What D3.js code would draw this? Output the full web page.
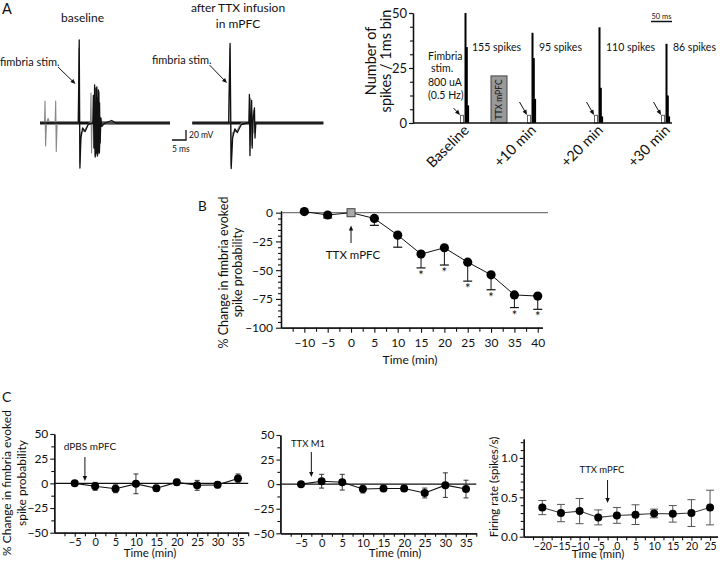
<!DOCTYPE html>
<html><head><meta charset="utf-8">
<script src="https://cdn.jsdelivr.net/npm/d3@7"></script>
<style>body{margin:0;background:#fff} svg{display:block;font-family:Lato,'Open Sans',sans-serif}</style>
</head><body><svg id="c" width="720" height="568"></svg>
<script>
// ---------- DATA ----------
// Panel A traces: [time ms, voltage mV]
const traceBaselineMain = [[0,0],[13.7,0],[14.0,166],[14.25,-90],[14.6,-30],[15.2,-10],[16.1,-17],[17.3,-2],[19.3,0],[19.5,76],[19.7,-68],[19.9,0],[20.3,72],[20.5,-66],[20.7,-4],[21.0,62],[21.2,-60],[21.5,-6],[22.1,-6],[23.2,0],[25.6,5],[27,0],[46.4,0]];
const traceBaselineDense = [[18.9,0],[19.1,55],[19.3,-50],[19.6,40],[19.8,-64],[20.0,70],[20.15,-60],[20.4,50],[20.6,-62],[20.8,66],[21.0,-58],[21.2,40],[21.4,-40],[21.7,10],[22.0,-8]];
const traceBaselineGrey = [[0,0],[1.6,0],[1.8,44],[2.0,-46],[2.3,0],[2.9,9],[3.4,0],[5.4,0],[5.6,44],[5.8,-57],[6.1,0],[13.6,0],[13.9,150],[14.2,-80],[14.6,-20],[16,-14],[17.5,0],[18.0,0],[18.2,60],[18.4,-60],[18.6,0],[46.4,0]];
const traceTTXMain = [[0,0],[13.0,0],[13.5,159],[13.9,-91],[14.4,-30],[15.2,-12],[16.1,-19],[17.5,-3],[19.5,0],[20.2,0],[20.4,57],[20.6,-65],[20.8,0],[21.2,45],[21.4,-50],[21.6,0],[22.2,30],[22.4,-30],[22.7,0],[46.8,0]];
const traceTTXGrey = [[0,0],[13.0,0],[13.4,150],[13.8,-85],[14.3,-20],[16,-15],[17.5,0],[20.6,0],[20.8,50],[21.0,-45],[21.2,0],[21.8,25],[22.0,-20],[22.3,0],[46.8,0]];

// Panel A histogram
const histCats = ["Baseline","+10 min","+20 min","+30 min"];
const stimBin = [3.5,3.5,3.5,3.5];
const spikeBins = [[50,34.5,8],[41,29.5,11],[43.5,16,3],[36,12.5,3]];
const spikeCounts = ["155 spikes","95 spikes","110 spikes","86 spikes"];
const ttxBoxValue = 21.4;
const histTicks = [0,25,50];

// Panel B
const bTime = [-10,-5,0,5,10,15,20,25,30,35,40];
const bMean = [1,-2,0,-5,-19.5,-36,-30.5,-43,-54,-71.5,-72.5];
const bErr  = [1,2.5,0,6,10.5,12,15,16.5,13,11,11.5];
const bSig  = [0,0,0,0,0,1,1,1,1,1,1];
const bYTicks = [0,-25,-50,-75,-100];
const bXTicks = [-10,-5,0,5,10,15,20,25,30,35,40];

// Panel C
const cTime = [-5,0,5,10,15,20,25,30,35];
const dpbsMean = [0,-3,-5.5,-0.5,-5,1,-2,-1.5,5];
const dpbsErr  = [1,4,4,10,3,3,5,3,4.5];
const m1Mean = [0,3,2,-5,-4.5,-4.5,-9,-1,-5];
const m1Err  = [1,7,8,4,3,3,5,12.5,9];
const cYTicks = [50,25,0,-25,-50];
const cXTicks = [-5,0,5,10,15,20,25,30,35];
const frTime = [-20,-15,-10,-5,0,5,10,15,20,25];
const frMean = [0.37,0.30,0.325,0.245,0.27,0.28,0.295,0.29,0.30,0.37];
const frErr  = [0.09,0.11,0.16,0.095,0.10,0.125,0.055,0.105,0.17,0.22];
const frYTicks = [0,0.5,1.0];
const frXTicks = [-20,-15,-10,-5,0,5,10,15,20,25];

// ---------- DRAW ----------
const svg = d3.select("#c");
svg.append("rect").attr("width",720).attr("height",568).attr("fill","#fff");

function txt(g,x,y,s,size,anchor="start"){
  return g.append("text").attr("x",x).attr("y",y).attr("font-size",size).attr("text-anchor",anchor).attr("fill","#111").text(s);
}
function rtxt(g,x,y,s,size,anchor="middle"){
  return g.append("text").attr("transform",`translate(${x},${y}) rotate(-90)`).attr("font-size",size).attr("text-anchor",anchor).attr("fill","#111").text(s);
}
function arrow(g,x1,y1,x2,y2,hs=5,hw=2.2,color="#111"){
  const a=Math.atan2(y2-y1,x2-x1), c=Math.cos(a), s=Math.sin(a);
  g.append("line").attr("x1",x1).attr("y1",y1).attr("x2",x2-c*hs*0.8).attr("y2",y2-s*hs*0.8).attr("stroke",color).attr("stroke-width",1);
  const bx=x2-c*hs, by=y2-s*hs;
  g.append("path").attr("d",`M${x2},${y2}L${bx-s*hw},${by+c*hw}L${bx+s*hw},${by-c*hw}Z`).attr("fill",color);
}
function styleAxis(g,size){
  g.selectAll("path.domain").attr("stroke","#111").attr("stroke-width",1.3);
  g.selectAll(".tick line").attr("stroke","#111").attr("stroke-width",1.1);
  g.selectAll(".tick text").attr("font-size",size).attr("fill","#111").attr("font-family","Lato,'Open Sans',sans-serif");
}

// ----- Panel A traces -----
const gA = svg.append("g");
txt(gA,2,14,"A",14.5);
txt(gA,82.5,22,"baseline",12,"middle");
txt(gA,238,12,"after TTX infusion",12,"middle");
txt(gA,238,28,"in mPFC",12,"middle");
const yT = d3.scaleLinear().domain([-100,180]).range([173,33]);
const xTL = d3.scaleLinear().domain([0,46.4]).range([40,170]);
const xTR = d3.scaleLinear().domain([0,46.8]).range([192.3,323.3]);
function drawTrace(data,xs,color,w){
  gA.append("path").datum(data).attr("fill","none").attr("stroke",color).attr("stroke-width",w)
    .attr("stroke-linejoin","round").attr("d",d3.line().x(d=>xs(d[0])).y(d=>yT(d[1])));
}
gA.append("line").attr("x1",xTL(0)).attr("x2",xTL(46.4)).attr("y1",yT(0)).attr("y2",yT(0)).attr("stroke","#111").attr("stroke-width",2.8);
gA.append("line").attr("x1",xTR(0)).attr("x2",xTR(46.8)).attr("y1",yT(0)).attr("y2",yT(0)).attr("stroke","#111").attr("stroke-width",2.8);
drawTrace(traceBaselineGrey,xTL,"#888",1.1);
drawTrace(traceBaselineMain,xTL,"#111",1.3);
drawTrace(traceBaselineDense,xTL,"#111",1.6);
drawTrace(traceTTXGrey,xTR,"#888",1.1);
drawTrace(traceTTXMain,xTR,"#111",1.3);
txt(gA,0,66,"fimbria stim.",11);
arrow(gA,58,67,75.5,84,5,2.2);
txt(gA,152,64,"fimbria stim.",11);
arrow(gA,209.5,65,227,83,5,2.2);
gA.append("path").attr("d","M172,140H186V130").attr("fill","none").attr("stroke","#111").attr("stroke-width",1.3);
txt(gA,189,137.5,"20 mV",8.5);
txt(gA,172,152,"5 ms",8.5);

// ----- Panel A histogram -----
const gH = svg.append("g");
const xH = d3.scalePoint().domain(histCats).range([466,667]);
const yH = d3.scaleLinear().domain([0,50]).range([123,13]);
gH.append("rect").attr("x",491).attr("width",16).attr("y",yH(ttxBoxValue)).attr("height",yH(0)-yH(ttxBoxValue))
  .attr("fill","#999").attr("stroke","#444").attr("stroke-width",1);
gH.append("text").attr("transform",`translate(${499+3},${(yH(ttxBoxValue)+yH(0))/2}) rotate(-90)`).attr("font-size",8.5)
  .attr("text-anchor","middle").attr("fill","#111").text("TTX mPFC");
histCats.forEach((c,i)=>{
  const cx=xH(c);
  gH.append("rect").attr("x",cx-5.5).attr("width",3).attr("y",yH(stimBin[i])).attr("height",yH(0)-yH(stimBin[i]))
    .attr("fill","#fff").attr("stroke","#555").attr("stroke-width",0.9);
  spikeBins[i].forEach((v,j)=>{
    gH.append("rect").attr("x",cx-1.5+j*1.3).attr("width",2).attr("y",yH(v)).attr("height",yH(0)-yH(v)).attr("fill","#000");
  });
  txt(gH,cx+6,50.5,spikeCounts[i],10.5);
  gH.append("text").attr("transform",`translate(${cx+4},${131}) rotate(-45)`).attr("text-anchor","end")
    .attr("font-size",14.5).attr("fill","#111").text(c);
  arrow(gH,cx-13.5+(i==0?1:0),102+(i==0?6:0),cx-6,115,5,2.2);
});
const yHAx = gH.append("g").attr("transform","translate(413,0)").call(d3.axisLeft(yH).tickValues(histTicks).tickSize(4).tickPadding(2).tickSizeOuter(0));
styleAxis(yHAx,13);
const yHMin = gH.append("g").attr("transform","translate(413,0)").call(d3.axisLeft(yH).tickValues(d3.range(0,50.1,6.25)).tickSize(3).tickFormat("").tickSizeOuter(0));
styleAxis(yHMin,13);
gH.append("line").attr("x1",413).attr("x2",672).attr("y1",yH(0)).attr("y2",yH(0)).attr("stroke","#111").attr("stroke-width",1.3);
rtxt(gH,376,61,"Number of",14.5);
rtxt(gH,391,61,"spikes / 1ms bin",14.5);
txt(gH,428,60,"Fimbria",10.5);
txt(gH,431,72,"stim.",10.5);
txt(gH,428,85.5,"800 uA",10.5);
txt(gH,428,98.5,"(0.5 Hz)",10.5);
gH.append("line").attr("x1",651).attr("x2",672).attr("y1",21.5).attr("y2",21.5).attr("stroke","#111").attr("stroke-width",1.5);
txt(gH,661.5,19,"50 ms",7.5,"middle");

// ----- Panel B -----
const gB = svg.append("g");
txt(gB,198,211,"B",13.5);
const xB = d3.scaleLinear().domain([-15,41]).range([281,542.4]);
const yB = d3.scaleLinear().domain([-100,0]).range([327.7,212.7]);
gB.append("line").attr("x1",xB(-15)).attr("x2",xB(42.2)).attr("y1",yB(0)).attr("y2",yB(0)).attr("stroke","#777").attr("stroke-width",1.3);
const bxa = gB.append("g").attr("transform",`translate(0,${yB(-100)})`).call(d3.axisBottom(xB).tickValues(bXTicks).tickSize(5).tickPadding(6).tickSizeOuter(0));
styleAxis(bxa,12);
const bxm = gB.append("g").attr("transform",`translate(0,${yB(-100)})`).call(d3.axisBottom(xB).tickValues(d3.range(-12.5,41,5)).tickSize(4).tickFormat("").tickSizeOuter(0));
styleAxis(bxm,12);
const bya = gB.append("g").attr("transform",`translate(${xB(-15)},0)`).call(d3.axisLeft(yB.copy().domain([-100,1.7]).range([327.7,210.7])).tickValues(bYTicks).tickSize(5).tickPadding(3).tickSizeOuter(0));
styleAxis(bya,12);
const bym = gB.append("g").attr("transform",`translate(${xB(-15)},0)`).call(d3.axisLeft(yB).tickValues(d3.range(-95,0,5).filter(v=>v%25)).tickSize(3).tickFormat("").tickSizeOuter(0));
styleAxis(bym,12);
bTime.forEach((t,i)=>{
  if(bErr[i]>0){
    const x=xB(t), y0=yB(bMean[i]), y1=yB(bMean[i]-bErr[i]);
    gB.append("line").attr("x1",x).attr("x2",x).attr("y1",y0).attr("y2",y1).attr("stroke","#111").attr("stroke-width",1);
    gB.append("line").attr("x1",x-4.5).attr("x2",x+4.5).attr("y1",y1).attr("y2",y1).attr("stroke","#111").attr("stroke-width",1.2);
  }
  if(bSig[i]) txt(gB,xB(t),yB(bMean[i]-bErr[i])+12,"*",13,"middle");
});
gB.append("path").datum(bTime.map((t,i)=>[t,bMean[i]])).attr("fill","none").attr("stroke","#111").attr("stroke-width",1)
  .attr("d",d3.line().x(d=>xB(d[0])).y(d=>yB(d[1])));
bTime.forEach((t,i)=>{
  if(t===0){
    gB.append("rect").attr("x",xB(t)-4).attr("y",yB(bMean[i])-4).attr("width",8).attr("height",8).attr("fill","#aaa").attr("stroke","#444").attr("stroke-width",1);
  } else {
    gB.append("circle").attr("cx",xB(t)).attr("cy",yB(bMean[i])).attr("r",4.6).attr("fill","#000");
  }
});
arrow(gB,xB(0),243,xB(0),225.5,5,2.2);
txt(gB,353,259,"TTX mPFC",11.5,"middle");
txt(gB,410,364,"Time (min)",12,"middle");
rtxt(gB,227.5,272.5,"% Change in fimbria evoked",12.5);
rtxt(gB,242,272.5,"spike probability",12.5);

// ----- Panel C -----
const gC = svg.append("g");
txt(gC,2,402,"C",14);
function cPanel(x0,x1,yTop,yBot,xDom,yDom,times,mean,err,xTicks,yTicks,yMinor,xMinor,lblFmt,zeroLine,lineColor,ebColor,capW,xLblSize){
  const xs=d3.scaleLinear().domain(xDom).range([x0,x1]);
  const ys=d3.scaleLinear().domain(yDom).range([yBot,yTop]);
  if(zeroLine) gC.append("line").attr("x1",x0).attr("x2",x1).attr("y1",ys(0)).attr("y2",ys(0)).attr("stroke","#111").attr("stroke-width",1.2);
  const xa=gC.append("g").attr("transform",`translate(0,${yBot})`).call(d3.axisBottom(xs).tickValues(xTicks).tickSize(4).tickPadding(1.5).tickSizeOuter(0));
  styleAxis(xa,xLblSize);
  const xm=gC.append("g").attr("transform",`translate(0,${yBot})`).call(d3.axisBottom(xs).tickValues(xMinor).tickSize(3.5).tickFormat("").tickSizeOuter(0));
  styleAxis(xm,11);
  const ya=gC.append("g").attr("transform",`translate(${x0},0)`).call(d3.axisLeft(ys).tickValues(yTicks).tickSize(4).tickPadding(2).tickFormat(lblFmt).tickSizeOuter(0));
  styleAxis(ya,12);
  const ym=gC.append("g").attr("transform",`translate(${x0},0)`).call(d3.axisLeft(ys).tickValues(yMinor).tickSize(3).tickFormat("").tickSizeOuter(0));
  styleAxis(ym,11);
  times.forEach((t,i)=>{
    const x=xs(t), a=ys(mean[i]+err[i]), b=ys(mean[i]-err[i]);
    gC.append("line").attr("x1",x).attr("x2",x).attr("y1",a).attr("y2",b).attr("stroke",ebColor).attr("stroke-width",1);
    [a,b].forEach(yy=>gC.append("line").attr("x1",x-capW).attr("x2",x+capW).attr("y1",yy).attr("y2",yy).attr("stroke",ebColor).attr("stroke-width",1));
  });
  gC.append("path").datum(times.map((t,i)=>[t,mean[i]])).attr("fill","none").attr("stroke",lineColor).attr("stroke-width",1.1)
    .attr("d",d3.line().x(d=>xs(d[0])).y(d=>ys(d[1])));
  times.forEach((t,i)=>gC.append("circle").attr("cx",xs(t)).attr("cy",ys(mean[i])).attr("r",4).attr("fill","#000"));
  return {xs,ys};
}
const c1=cPanel(54.3,248.2,434,532.7,[-10,37.5],[-50,50],cTime,dpbsMean,dpbsErr,cXTicks,cYTicks,[37.5,12.5,-12.5,-37.5],d3.range(-7.5,38,5),d3.format("d"),true,"#111","#333",2.5,11);
const c2=cPanel(280.4,476.3,435,533.3,[-10,37.5],[-50,50],cTime,m1Mean,m1Err,cXTicks,cYTicks,[37.5,12.5,-12.5,-37.5],d3.range(-7.5,38,5),d3.format("d"),true,"#111","#333",2.5,11);
const c3=cPanel(523.7,717.5,439,536.7,[-25,27],[0,1.24],frTime,frMean,frErr,frXTicks,frYTicks,[0.1,0.2,0.3,0.4,0.6,0.7,0.8,0.9,1.1,1.2],d3.range(-22.5,27,5),d3.format(".1f"),false,"#444","#555",4,10.5);
arrow(gC,c1.xs(-2.5),457,c1.xs(-2.5),481,5,2.2);
txt(gC,90,450,"dPBS mPFC",10,"middle");
arrow(gC,c2.xs(-2.5),452,c2.xs(-2.5),477,5,2.2);
txt(gC,308,447,"TTX M1",9.5,"middle");
arrow(gC,c3.xs(-2.5),480,c3.xs(-2.5),503,5,2.2);
txt(gC,602,473,"TTX mPFC",9.5,"middle");
txt(gC,150,557,"Time (min)",11.5,"middle");
txt(gC,395,557,"Time (min)",11.5,"middle");
txt(gC,598,558,"Time (min)",11.5,"middle");
rtxt(gC,10.5,483,"% Change in fimbria evoked",12);
rtxt(gC,25.5,483,"spike probability",12);
rtxt(gC,498,487,"Firing rate (spikes/s)",11.5);
</script></body></html>
